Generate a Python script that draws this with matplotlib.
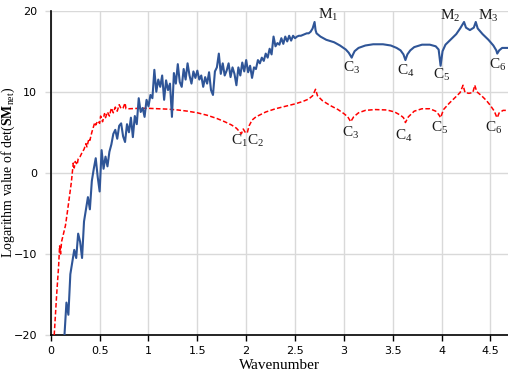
import matplotlib
matplotlib.use('Agg')
from matplotlib import pyplot as plt

plt.rcParams['mathtext.fontset'] = 'custom'
plt.rcParams['mathtext.rm'] = 'Liberation Serif'
plt.rcParams['mathtext.it'] = 'Liberation Serif:italic'
plt.rcParams['mathtext.bf'] = 'Liberation Serif:bold'

# curva azul (linea solida)
onda_azul = [0.14, 0.16, 0.18, 0.20, 0.22, 0.24, 0.26, 0.28, 0.30, 0.32, 0.34, 0.36, 0.38, 0.40,
             0.42, 0.44, 0.46, 0.48, 0.50, 0.52, 0.54, 0.56, 0.58, 0.60, 0.62, 0.64, 0.66, 0.68,
             0.70, 0.72, 0.74, 0.76, 0.78, 0.80, 0.82, 0.84, 0.86, 0.88, 0.90, 0.92, 0.94, 0.96,
             0.98, 1.00, 1.02, 1.04, 1.06, 1.08, 1.10, 1.12, 1.14, 1.16, 1.18, 1.20, 1.22, 1.24,
             1.26, 1.28, 1.30, 1.32, 1.34, 1.36, 1.38, 1.40, 1.42, 1.44, 1.46, 1.48, 1.50, 1.52,
             1.54, 1.56, 1.58, 1.60, 1.62, 1.64, 1.66, 1.68, 1.70, 1.72, 1.74, 1.76, 1.78, 1.80,
             1.82, 1.84, 1.86, 1.88, 1.90, 1.92, 1.94, 1.96, 1.98, 2.00, 2.02, 2.04, 2.06, 2.08,
             2.10, 2.12, 2.14, 2.16, 2.18, 2.20, 2.22, 2.24, 2.26, 2.28, 2.30, 2.32, 2.34, 2.36,
             2.38, 2.40, 2.42, 2.44, 2.46, 2.48, 2.50, 2.52, 2.54, 2.56, 2.58, 2.60, 2.62, 2.64,
             2.66, 2.68, 2.70, 2.71, 2.72, 2.76, 2.82, 2.90, 2.96, 3.02, 3.05, 3.07, 3.08, 3.09,
             3.11, 3.15, 3.22, 3.30, 3.40, 3.48, 3.54, 3.58, 3.61, 3.63, 3.65, 3.68, 3.72, 3.80,
             3.88, 3.94, 3.97, 3.99, 4.01, 4.04, 4.10, 4.15, 4.19, 4.23, 4.25, 4.29, 4.33, 4.35,
             4.37, 4.42, 4.48, 4.53, 4.56, 4.57, 4.59, 4.62, 4.68]
log_azul = [-20.0, -16.0, -17.5, -12.5, -11.0, -9.5, -10.5, -7.5, -8.5, -10.5, -6.0, -4.5, -3.0, -4.5,
            -1.0, 0.5, 1.8, -0.5, -2.3, 2.8, 0.5, 2.0, 0.8, 2.6, 3.5, 4.8, 5.3, 4.2,
            5.8, 6.1, 4.5, 3.8, 6.0, 5.0, 6.8, 4.4, 7.0, 6.0, 9.2, 7.5, 8.0, 6.9,
            9.0, 8.2, 9.6, 9.2, 12.7, 10.0, 11.5, 10.6, 12.0, 9.0, 11.4, 10.2, 11.0, 6.9,
            12.3, 11.0, 13.4, 11.2, 10.6, 12.8, 11.5, 13.5, 12.0, 11.0, 12.5, 11.7, 12.6, 11.5,
            12.0, 10.6, 11.8, 11.0, 12.4, 10.2, 9.6, 12.5, 13.0, 14.7, 12.2, 13.5, 12.0, 12.6,
            13.5, 11.8, 13.0, 12.2, 10.8, 13.0, 12.0, 13.6, 12.5, 13.9, 12.4, 13.2, 11.7, 13.0,
            12.8, 13.9, 13.5, 14.2, 13.8, 14.7, 14.2, 15.3, 14.6, 16.8, 15.6, 16.0, 15.8, 16.6,
            15.9, 16.8, 16.2, 16.9, 16.3, 16.9, 16.6, 16.8, 16.9, 16.9, 17.0, 17.1, 17.2, 17.2,
            17.4, 17.8, 18.6, 17.6, 17.2, 16.8, 16.4, 16.1, 15.7, 15.2, 14.8, 14.4, 14.2, 14.5,
            15.0, 15.4, 15.7, 15.85, 15.85, 15.7, 15.4, 15.1, 14.6, 13.9, 14.6, 15.1, 15.5, 15.8,
            15.8, 15.6, 15.2, 13.2, 15.0, 15.8, 16.5, 17.1, 17.8, 18.6, 17.9, 17.6, 17.9, 18.6,
            17.8, 17.1, 16.4, 15.7, 15.1, 14.7, 15.1, 15.4, 15.4]

# curva roja (linea punteada)
onda_roja = [0.035, 0.06, 0.08, 0.09, 0.10, 0.11, 0.13, 0.15, 0.17, 0.19, 0.21, 0.22, 0.23, 0.24,
             0.25, 0.27, 0.28, 0.30, 0.32, 0.34, 0.36, 0.37, 0.39, 0.40, 0.42, 0.44, 0.45, 0.46,
             0.48, 0.50, 0.51, 0.53, 0.55, 0.56, 0.58, 0.60, 0.62, 0.64, 0.66, 0.68, 0.70, 0.72,
             0.74, 0.76, 0.77, 0.80, 0.90, 1.00, 1.10, 1.20, 1.30, 1.40, 1.50, 1.60, 1.70, 1.78,
             1.85, 1.90, 1.93, 1.95, 1.97, 1.99, 2.01, 2.03, 2.06, 2.10, 2.20, 2.30, 2.40, 2.50,
             2.58, 2.64, 2.68, 2.71, 2.73, 2.78, 2.86, 2.94, 3.00, 3.04, 3.07, 3.10, 3.15, 3.22,
             3.32, 3.44, 3.52, 3.58, 3.61, 3.63, 3.66, 3.72, 3.80, 3.88, 3.94, 3.97, 3.99, 4.02,
             4.08, 4.14, 4.19, 4.22, 4.24, 4.28, 4.32, 4.34, 4.36, 4.41, 4.46, 4.50, 4.54, 4.56,
             4.57, 4.59, 4.63, 4.68]
log_roja = [-20.0, -15.0, -11.5, -9.0, -10.0, -8.5, -7.5, -6.5, -4.8, -3.0, -1.2, 0.0, 1.2, 0.6,
            1.4, 1.0, 1.7, 2.0, 2.5, 2.9, 3.6, 3.2, 4.2, 4.0, 5.0, 5.8, 6.2, 5.9,
            6.4, 6.1, 7.0, 6.3, 7.3, 6.8, 7.5, 7.0, 8.0, 7.4, 8.1, 7.6, 8.4, 7.9,
            8.0, 8.6, 7.9, 7.9, 7.95, 7.95, 7.9, 7.85, 7.75, 7.6, 7.4, 7.1, 6.7, 6.3,
            5.9, 5.5, 5.1, 4.8, 5.4, 5.0, 4.9, 5.8, 6.5, 6.9, 7.5, 7.9, 8.2, 8.5,
            8.8, 9.1, 9.5, 10.3, 9.5, 8.9, 8.3, 7.8, 7.3, 6.9, 6.3, 6.9, 7.4, 7.7,
            7.8, 7.75, 7.5, 7.1, 6.8, 6.2, 6.9, 7.6, 7.9, 7.9, 7.6, 7.2, 6.8, 7.8,
            8.6, 9.3, 9.9, 10.8, 9.9, 9.8, 9.9, 10.8, 10.0, 9.5, 8.9, 8.3, 7.6, 7.0,
            6.8, 7.4, 7.7, 7.7]

etiquetas_azul = [r'$\mathrm{M}_1$', r'$\mathrm{C}_3$', r'$\mathrm{C}_4$', r'$\mathrm{C}_5$',
                  r'$\mathrm{M}_2$', r'$\mathrm{M}_3$', r'$\mathrm{C}_6$']
etiquetas_azul_x = [2.84, 3.08, 3.63, 4.00, 4.09, 4.48, 4.57]
etiquetas_azul_y = [19.5, 12.9, 12.5, 12.1, 19.4, 19.4, 13.3]

etiquetas_roja = [r'$\mathrm{C}_1$', r'$\mathrm{C}_2$', r'$\mathrm{C}_3$', r'$\mathrm{C}_4$',
                  r'$\mathrm{C}_5$', r'$\mathrm{C}_6$']
etiquetas_roja_x = [1.93, 2.10, 3.07, 3.61, 3.98, 4.53]
etiquetas_roja_y = [3.9, 3.9, 4.9, 4.6, 5.5, 5.5]

fig = plt.figure(figsize=(5.08, 3.79), dpi=100)
ax = fig.add_axes([0.100, 0.116, 0.900, 0.856])

ax.plot(onda_roja, log_roja, color='#FF0000', linestyle=(0, (3, 1.5)), linewidth=1.1, zorder=3)
ax.plot(onda_azul, log_azul, color='#2F5597', linewidth=1.5, zorder=4)

for texto, x, y in zip(etiquetas_azul, etiquetas_azul_x, etiquetas_azul_y):
  ax.text(x, y, texto, fontsize=11, ha='center', va='center', color='#1a1a1a')
for texto, x, y in zip(etiquetas_roja, etiquetas_roja_x, etiquetas_roja_y):
  ax.text(x, y, texto, fontsize=11, ha='center', va='center', color='#1a1a1a')

ax.set_xlim(0, 4.68)
ax.set_ylim(-20, 20)
ax.set_xticks([0, 0.5, 1, 1.5, 2, 2.5, 3, 3.5, 4, 4.5])
ax.set_xticklabels(['0', '0.5', '1', '1.5', '2', '2.5', '3', '3.5', '4', '4.5'])
ax.set_yticks([-20, -10, 0, 10, 20])
ax.grid(True, color='#D9D9D9', linewidth=1.0, zorder=0)
ax.set_axisbelow(True)

for lado in ['top', 'right']:
  ax.spines[lado].set_visible(False)
ax.spines['left'].set_linewidth(1.2)
ax.spines['bottom'].set_linewidth(1.2)

ax.tick_params(axis='x', direction='out', length=4, width=1.0, labelsize=8, pad=4)
ax.tick_params(axis='y', direction='out', length=4, width=1.0, color='#D9D9D9', labelsize=8, pad=6)

ax.set_xlabel('Wavenumber', family='Liberation Serif', fontsize=11, labelpad=2)
ax.set_ylabel(r'Logarithm value of det($\mathbf{SM}_{\mathrm{net}}$)', family='Liberation Serif',
              fontsize=10)
ax.yaxis.set_label_coords(-0.074, 0.5)

fig.savefig('out.png', dpi=100)
